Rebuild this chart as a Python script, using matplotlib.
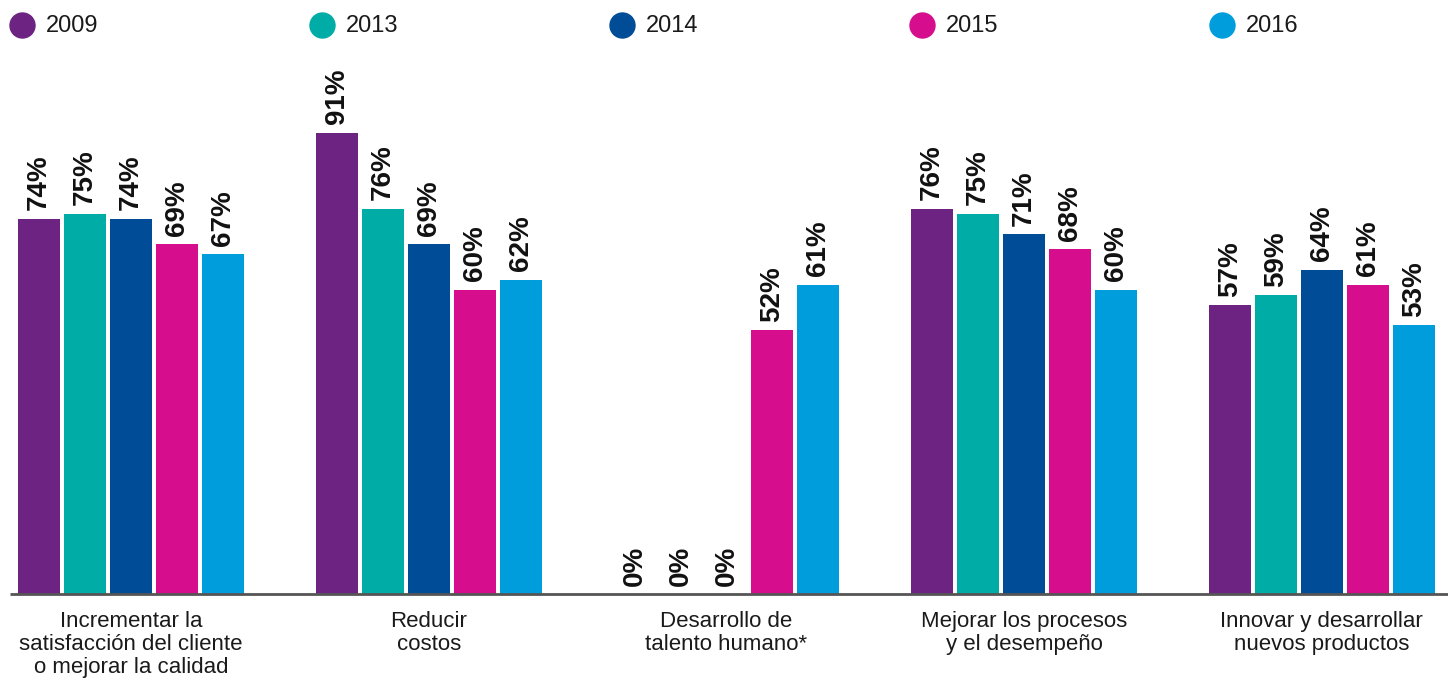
import numpy as np
import matplotlib.pyplot as plt
from matplotlib.lines import Line2D

# Data
categories = [
    "Incrementar la\nsatisfacción del cliente\no mejorar la calidad",
    "Reducir\ncostos",
    "Desarrollo de\ntalento humano*",
    "Mejorar los procesos\ny el desempeño",
    "Innovar y desarrollar\nnuevos productos",
]
years = ["2009", "2013", "2014", "2015", "2016"]
v2009 = [74, 91, 0, 76, 57]
v2013 = [75, 76, 0, 75, 59]
v2014 = [74, 69, 0, 71, 64]
v2015 = [69, 60, 52, 68, 61]
v2016 = [67, 62, 61, 60, 53]
series = [v2009, v2013, v2014, v2015, v2016]
colors = ["#6C2381", "#00ACA6", "#004C97", "#D60D8C", "#009DDC"]

W, H = 1448, 681
fig = plt.figure(figsize=(W / 100, H / 100), dpi=100)

# axes: baseline at y=594 px, full width
ax = fig.add_axes([0, (H - 594) / H, 1, 594 / H])
gp = 297.7
pitch = 46 / gp
width = 42 / gp
x = np.arange(len(categories))

for j, (vals, col) in enumerate(zip(series, colors)):
    xs = x + (j - 2) * pitch
    ax.bar(xs, vals, width=width, color=col, zorder=2)
    for xi, v in zip(xs, vals):
        ax.annotate(f"{v}%", (xi, v), xytext=(0, 6), textcoords="offset points",
                    rotation=90, ha="center", va="bottom", fontsize=20,
                    fontweight="bold", family="Liberation Sans", color="#111111")

ax.set_xlim(-131 / gp, (W - 131) / gp)
ax.set_ylim(0, 594 / 5.07)
ax.axis("off")

# baseline
ax.plot([-121 / gp, (W - 131) / gp], [0, 0], color="#555555", lw=2, zorder=3,
        clip_on=False, solid_capstyle="butt")

# category labels
for xi, cat in zip(x, categories):
    ax.annotate(cat, (xi, 0), xytext=(0, -12), textcoords="offset points",
                ha="center", va="top", fontsize=16, linespacing=1.12,
                family="Liberation Sans", color="#1a1a1a", annotation_clip=False)

# legend
for k, (yr, col) in enumerate(zip(years, colors)):
    cx = 22 + 300 * k
    fig.add_artist(Line2D([cx / W], [1 - 25 / H], marker="o", markersize=18,
                          color=col, linestyle="none", transform=fig.transFigure))
    fig.text((cx + 24) / W, 1 - 26 / H, yr, ha="left", va="center", fontsize=17,
             family="Liberation Sans", color="#1a1a1a")

fig.savefig("out.png", dpi=100)
